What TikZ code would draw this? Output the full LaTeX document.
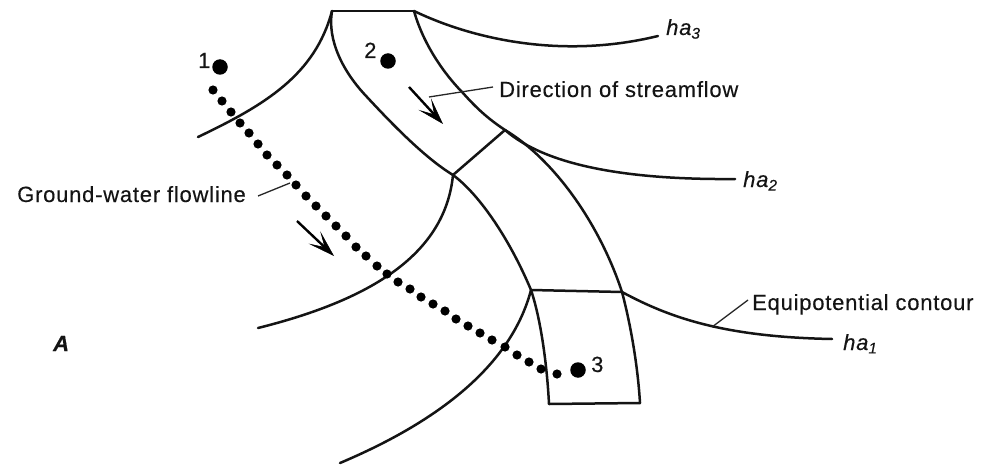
\documentclass[tikz,border=0pt]{standalone}
\usepackage{fontspec}
\setmainfont[LetterSpace=3.5,FakeBold=0.25]{Liberation Sans}
\usetikzlibrary{arrows.meta}
\tikzset{
  ink/.style={draw=black!92, line width=2.5pt, line cap=round, line join=round},
  leader/.style={draw=black!85, line width=1.3pt},
  flowarrow/.style={draw=black, line width=2.4pt, -{Stealth[length=27pt,width=17pt,inset=14pt,line width=0.6pt]}},
  flowdot/.style={circle, fill=black, inner sep=0pt, minimum size=9.2pt},
  well/.style={circle, fill=black, inner sep=0pt, minimum size=15.5pt},
  lab/.style={font=\fontsize{22}{24}\selectfont, text=black!92, inner sep=0pt, anchor=base west},
  ital/.style={lab, font=\fontsize{22}{24}\selectfont\itshape}
}
\begin{document}
\begin{tikzpicture}[x=1pt,y=-1pt]
\useasboundingbox (0,0) rectangle (990,468);
\fill[white] (0,0) rectangle (990,468);
% key points
\coordinate (tl) at (332,11);
\coordinate (tr) at (414,11);
\coordinate (ml) at (453,175);
\coordinate (mr) at (505,130);
\coordinate (ll) at (531,290);
\coordinate (lr) at (622,292);
\coordinate (bl) at (549,404);
\coordinate (br) at (640,403);
\coordinate (e3) at (658,36);
\coordinate (e2) at (735,179);
\coordinate (e1) at (832,339);
\coordinate (c1) at (198,137);
\coordinate (c2) at (258,328);
\coordinate (c3) at (340,463);
\coordinate (lb) at (367,97);
\coordinate (rb) at (463,93);
% stream
\draw[ink] (tl) -- (tr);
\draw[ink] (ll) -- (lr);
\draw[ink] (ml) -- (mr);
\draw[ink] (bl) -- (br);
\draw[ink] (tl) .. controls (327,40) and (343,72) .. (lb) .. controls (392,124) and (425,158) .. (ml)
  .. controls (480,195) and (510,240) .. (ll) .. controls (541,320) and (547,365) .. (bl);
\draw[ink] (tr) .. controls (425,50) and (450,80) .. (rb) .. controls (478,110) and (490,120) .. (mr)
  .. controls (555,160) and (600,225) .. (lr) .. controls (632,330) and (638,370) .. (br);
% contours
\draw[ink] (tr) .. controls (470,38) and (560,60) .. (e3);
\draw[ink] (mr) .. controls (545,165) and (625,180) .. (e2);
\draw[ink] (lr) .. controls (670,318) and (725,337) .. (e1);
\draw[ink] (c1) .. controls (265,105) and (315,75) .. (tl);
\draw[ink] (c2) .. controls (370,300) and (445,255) .. (ml);
\draw[ink] (c3) .. controls (430,425) and (510,370) .. (ll);
% flow line
\foreach \p in {(213,90),(222,101),(231,112),(240,123),(249,133),(258,144),(267,155),(277,165),(287,175),(296,185),(306,196),(316,206),(326,216),(336,226),(346,236),(356,247),(366,256),(377,266),(387,274),(398,282),(410,289),(421,297),(433,304),(445,311),(456,319),(468,326),(480,333),(492,340),(505,347),(517,355),(529,362),(541,369),(557,374)}
  \node[flowdot] at \p {};
% wells
\node[well] (w1) at (220,67) {};
\node[well] (w2) at (388,61) {};
\node[well] (w3) at (578,370) {};
\node[lab] (n1) at (198,68) {1};
\node[lab] (n2) at (364,58) {2};
\node[lab] (n3) at (591,372) {3};
% arrows
\coordinate (a1s) at (409,87);
\coordinate (a1e) at (443,124);
\draw[flowarrow] (a1s) -- (a1e);
\coordinate (a2s) at (297,221);
\coordinate (a2e) at (334,256);
\draw[flowarrow] (a2s) -- (a2e);
% labels and leaders
\node[lab] (ds) at (499,97) {Direction of streamflow};
\node[lab] (gw) at (17,202) {Ground-water flowline};
\node[lab] (ec) at (752,310) {Equipotential contour};
\node[ital] (ha3) at (666,35) {ha\textsubscript{3}};
\node[ital] (ha2) at (743,187) {ha\textsubscript{2}};
\node[ital] (ha1) at (843,350) {ha\textsubscript{1}};
\node[lab, font=\fontsize{22}{24}\selectfont\bfseries\itshape] (A) at (53,351) {A};
\coordinate (l1a) at (493,87);
\coordinate (l1b) at (429,97);
\coordinate (l2a) at (258,196);
\coordinate (l2b) at (290,183);
\coordinate (l3a) at (748,300);
\coordinate (l3b) at (712,327);
\draw[leader] (l1a) -- (l1b);
\draw[leader] (l2a) -- (l2b);
\draw[leader] (l3a) -- (l3b);
\end{tikzpicture}
\end{document}
